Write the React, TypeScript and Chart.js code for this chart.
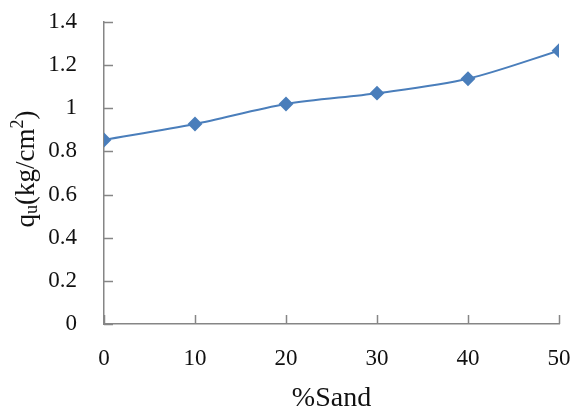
import React, { useEffect, useRef } from "react";
import { Chart, registerables } from "chart.js";

Chart.register(...registerables);

const sandPercent = [0, 10, 20, 30, 40, 50];
const quValues = [0.853, 0.927, 1.02, 1.07, 1.137, 1.267];
const xTickValues = [0, 10, 20, 30, 40, 50];
const yTickValues = [0, 0.2, 0.4, 0.6, 0.8, 1.0, 1.2, 1.4];
const xTitle = "%Sand";

const AXIS_COLOR = "#868686";
const LINE_COLOR = "#4A7EBB";
const FONT = "'Liberation Serif', 'Times New Roman', serif";

const innerTicksPlugin = {
  id: "innerTicks",
  afterDraw(chart: any) {
    const ctx = chart.ctx;
    const xs = chart.scales.x;
    const ys = chart.scales.y;
    const area = chart.chartArea;
    ctx.save();
    ctx.strokeStyle = AXIS_COLOR;
    ctx.lineWidth = 1.5;
    ctx.beginPath();
    yTickValues.forEach((v) => {
      const py = Math.round(ys.getPixelForValue(v)) + 0.5;
      ctx.moveTo(area.left, py);
      ctx.lineTo(area.left + 9, py);
    });
    xTickValues.forEach((v) => {
      const px = Math.round(xs.getPixelForValue(v)) + 0.5;
      ctx.moveTo(px, area.bottom);
      ctx.lineTo(px, area.bottom - 9);
    });
    ctx.stroke();

    // Y-axis title with subscript and superscript
    ctx.fillStyle = "#111";
    ctx.translate(25, (area.top + area.bottom) / 2 - 4);
    ctx.rotate(-Math.PI / 2);
    const big = `27px ${FONT}`;
    const small = `18px ${FONT}`;
    const parts = [
      { t: "q", f: big, dy: 0 },
      { t: "u", f: small, dy: 5 },
      { t: "(kg/cm", f: big, dy: 0 },
      { t: "2", f: small, dy: -9 },
      { t: ")", f: big, dy: 0 },
    ];
    let total = 0;
    parts.forEach((p) => {
      ctx.font = p.f;
      total += ctx.measureText(p.t).width;
    });
    let x = -total / 2;
    ctx.textBaseline = "middle";
    ctx.textAlign = "left";
    parts.forEach((p) => {
      ctx.font = p.f;
      ctx.fillText(p.t, x, p.dy + 2);
      x += ctx.measureText(p.t).width;
    });
    ctx.restore();
  },
};

export default function App() {
  const canvasRef = useRef<HTMLCanvasElement | null>(null);

  useEffect(() => {
    if (!canvasRef.current) return;
    const chart = new Chart(canvasRef.current, {
      type: "line",
      data: {
        datasets: [
          {
            data: sandPercent.map((x, i) => ({ x, y: quValues[i] })),
            borderColor: LINE_COLOR,
            backgroundColor: LINE_COLOR,
            borderWidth: 2,
            pointStyle: "rectRot",
            pointRadius: 6,
            pointBackgroundColor: LINE_COLOR,
            pointBorderColor: LINE_COLOR,
            tension: 0.3,
            fill: false,
          },
        ],
      },
      options: {
        animation: false,
        responsive: true,
        maintainAspectRatio: false,
        layout: { padding: { left: 0, right: 15, top: 22, bottom: 0 } },
        plugins: {
          legend: { display: false },
          tooltip: { enabled: false },
        },
        scales: {
          x: {
            type: "linear",
            min: 0,
            max: 50,
            afterBuildTicks: (scale: any) => {
              scale.ticks = xTickValues.map((v) => ({ value: v }));
            },
            afterFit: (scale: any) => {
              scale.height = 88;
              scale.paddingLeft = 0;
              scale.paddingRight = 0;
            },
            grid: { display: false, drawTicks: false },
            border: { display: true, color: AXIS_COLOR, width: 1.5 },
            ticks: {
              color: "#111",
              font: { family: FONT, size: 23 },
              padding: 21,
              maxRotation: 0,
              autoSkip: false,
            },
            title: {
              display: true,
              text: xTitle,
              color: "#111",
              font: { family: FONT, size: 28 },
              padding: { top: 0, bottom: -3 },
            },
          },
          y: {
            type: "linear",
            min: 0,
            max: 1.4,
            afterBuildTicks: (scale: any) => {
              scale.ticks = yTickValues.map((v) => ({ value: v }));
            },
            afterFit: (scale: any) => {
              scale.width = 104;
              scale.paddingTop = 0;
              scale.paddingBottom = 0;
            },
            grid: { display: false, drawTicks: false },
            border: { display: true, color: AXIS_COLOR, width: 1.5 },
            ticks: {
              color: "#111",
              font: { family: FONT, size: 23 },
              padding: 27,
              autoSkip: false,
              callback: (v: any) => String(Math.round(Number(v) * 10) / 10),
            },
          },
        },
      },
      plugins: [innerTicksPlugin],
    } as any);
    return () => chart.destroy();
  }, []);

  return (
    <div style={{ position: "absolute", left: 0, top: 0, width: 574, height: 412, background: "#fff" }}>
      <canvas ref={canvasRef} />
    </div>
  );
}
